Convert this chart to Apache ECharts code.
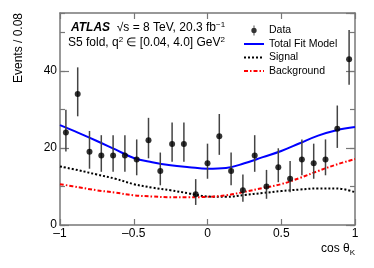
<!DOCTYPE html>
<html><head><meta charset="utf-8">
<script src="https://cdn.jsdelivr.net/npm/echarts@6/dist/echarts.min.js"></script>
<style>html,body{margin:0;padding:0;background:#fff}#c{width:374px;height:268px}</style>
</head><body><div id="c"></div>
<script>
// ---- data ----
const binCenters = [-0.96,-0.88,-0.80,-0.72,-0.64,-0.56,-0.48,-0.40,-0.32,-0.24,-0.16,-0.08,0.00,
                    0.08,0.16,0.24,0.32,0.40,0.48,0.56,0.64,0.72,0.80,0.88,0.96];
const counts = [24,34,19,18,18,18,17,22,14,21,21,8,16,23,14,9,18,10,15,12,17,16,17,25,43];
const errLow  = [4.9,5.8,4.4,4.2,4.2,4.2,4.1,4.7,3.7,4.6,4.6,2.8,4.0,4.8,3.7,3.0,4.2,3.2,3.9,3.5,4.1,4.0,4.1,5.0,6.6];
const errHigh = [5.9,6.9,5.4,5.3,5.3,5.3,5.2,5.8,4.8,5.6,5.6,3.9,5.1,5.8,4.8,4.1,5.3,4.3,4.9,4.6,5.2,5.1,5.2,6.0,7.6];
const curveX     = [-1,-0.875,-0.75,-0.625,-0.5,-0.375,-0.25,-0.125,0,0.125,0.25,0.375,0.5,0.625,0.75,0.875,1];
const totalFit   = [25.9,23.9,21.8,19.6,17.4,16.3,15.5,15.0,14.6,14.8,16.0,17.6,19.2,21.2,23.2,24.6,25.4];
const signal     = [15.2,14.2,13.1,12.0,10.6,9.7,9.0,8.2,7.4,7.3,7.8,8.3,8.8,9.2,9.5,9.5,8.5];
const background = [10.6,9.8,9.0,8.4,7.7,7.4,7.2,7.2,7.3,7.7,8.6,9.6,10.6,12.2,14.0,15.7,17.1];
const legendNames = ['Data','Total Fit Model','Signal','Background'];
const yLabelValues = [0,20,40];

const FONT = 'Liberation Sans, Arial, Helvetica, sans-serif';
const AX = '#777';
const pair = (xs, ys) => xs.map((x,i) => [x, ys[i]]);

const chart = echarts.init(document.getElementById('c'), null, {renderer:'canvas'});
const yBase = {type:'value', min:0, max:55, splitLine:{show:false}};
const hideSym = {opacity:0, color:'rgba(0,0,0,0)', borderWidth:0};
const option = {
  animation:false,
  backgroundColor:'#fff',
  grid:{left:60, right:19, top:13, bottom:43},
  xAxis:[
    {type:'value', min:-1, max:1, interval:0.5, position:'bottom',
     axisLine:{show:true, onZero:false, lineStyle:{color:AX, width:1.5}},
     axisTick:{show:true, inside:true, length:6, lineStyle:{color:AX, width:1.2}},
     axisLabel:{show:true, margin:3, color:'#000', fontSize:12, fontFamily:FONT,
       formatter:v => (v===0?'0':String(v).replace('-','\u2013'))},
     splitLine:{show:false}},
    {type:'value', min:-1, max:1, interval:0.5, position:'top',
     axisLine:{show:true, onZero:false, lineStyle:{color:AX, width:1.5}},
     axisTick:{show:true, inside:true, length:6, lineStyle:{color:AX, width:1.2}},
     axisLabel:{show:false}, splitLine:{show:false}}
  ],
  yAxis:[
    Object.assign({}, yBase, {interval:20, position:'left',
      axisLine:{show:true, onZero:false, lineStyle:{color:AX, width:1.5}},
      axisTick:{show:true, inside:true, length:9, lineStyle:{color:AX, width:1.2}},
      axisLabel:{show:true, margin:3, color:'#000', fontSize:12, fontFamily:FONT, showMaxLabel:false,
        formatter:v => (yLabelValues.indexOf(v) >= 0 ? String(v) : '')}}),
    Object.assign({}, yBase, {interval:10, position:'left',
      axisLine:{show:false, onZero:false},
      axisTick:{show:true, inside:true, length:5, lineStyle:{color:AX, width:1.2}},
      axisLabel:{show:false}}),
    Object.assign({}, yBase, {interval:20, position:'right',
      axisLine:{show:true, onZero:false, lineStyle:{color:AX, width:1.5}},
      axisTick:{show:true, inside:true, length:9, lineStyle:{color:AX, width:1.2}},
      axisLabel:{show:false}}),
    Object.assign({}, yBase, {interval:10, position:'right',
      axisLine:{show:false, onZero:false},
      axisTick:{show:true, inside:true, length:5, lineStyle:{color:AX, width:1.2}},
      axisLabel:{show:false}})
  ],
  legend:{
    orient:'vertical', left:238, top:20, itemWidth:20, itemHeight:10, itemGap:2.5,
    textStyle:{color:'#000', fontSize:10.5, fontFamily:FONT},
    data:[
      {name:legendNames[0], icon:'path://M2.6,0h0.8v9h-0.8z M3,2.1a2.4,2.4 0 1,1 0,4.8a2.4,2.4 0 1,1 0,-4.8z'},
      {name:legendNames[1], itemStyle:hideSym},
      {name:legendNames[2], itemStyle:hideSym},
      {name:legendNames[3], itemStyle:hideSym}
    ]
  },
  series:[
    {name:legendNames[1], type:'line', smooth:0.4, symbol:'none', data:pair(curveX,totalFit),
     lineStyle:{color:'#0000ff', width:2}, itemStyle:{color:'#0000ff'}, z:3},
    {name:legendNames[2], type:'line', smooth:0.4, symbol:'none', data:pair(curveX,signal),
     lineStyle:{color:'#000', width:2, type:[2,2]}, itemStyle:{color:'#000'}, z:3},
    {name:legendNames[3], type:'line', smooth:0.4, symbol:'none', data:pair(curveX,background),
     lineStyle:{color:'#ff0000', width:2, type:[4,2,1.5,2]}, itemStyle:{color:'#ff0000'}, z:3},
    {name:'errbars', type:'custom', z:4,
     data:binCenters.map((x,i)=>[x, counts[i]-errLow[i], counts[i]+errHigh[i]]),
     renderItem:(params, api) => {
       const p1 = api.coord([api.value(0), api.value(1)]);
       const p2 = api.coord([api.value(0), api.value(2)]);
       return {type:'line', shape:{x1:p1[0], y1:p1[1], x2:p2[0], y2:p2[1]},
               style:{stroke:'#444', lineWidth:1.5}};
     }},
    {name:legendNames[0], type:'scatter', symbol:'circle', symbolSize:6, z:5,
     data:pair(binCenters,counts), itemStyle:{color:'#000'}}
  ],
  graphic:[
    {type:'text', left:71, top:21, z:10, style:{
      text:'{b|ATLAS}  {n|\u221As = 8 TeV, 20.3 fb}{s|\u22121}',
      rich:{
        b:{fontFamily:FONT, fontWeight:'bold', fontStyle:'italic', fontSize:12, fill:'#000', lineHeight:14},
        n:{fontFamily:FONT, fontSize:12, fill:'#000', lineHeight:14},
        s:{fontFamily:FONT, fontSize:8, fill:'#000', verticalAlign:'top', lineHeight:10}
      }}},
    {type:'text', left:68, top:36, z:10, style:{
      text:'{n|S5 fold, q}{s|2}{n| \u2208 [0.04, 4.0] GeV}{s|2}',
      rich:{
        n:{fontFamily:FONT, fontSize:12, fill:'#000', lineHeight:14},
        s:{fontFamily:FONT, fontSize:8, fill:'#000', verticalAlign:'top', lineHeight:10}
      }}},
    {type:'text', x:19, y:13, rotation:Math.PI/2, z:10, style:{
      text:'Events / 0.08', fontFamily:FONT, fontSize:12, fill:'#000', align:'right', verticalAlign:'middle'}},
    {type:'text', right:19, top:243, z:10, style:{
      text:'{n|cos \u03B8}{k|K}',
      rich:{
        n:{fontFamily:FONT, fontSize:12, fill:'#000', lineHeight:16},
        k:{fontFamily:FONT, fontSize:8, fill:'#000', verticalAlign:'bottom', lineHeight:10}
      }}}
  ]
};
chart.setOption(option);
</script>
</body></html>
